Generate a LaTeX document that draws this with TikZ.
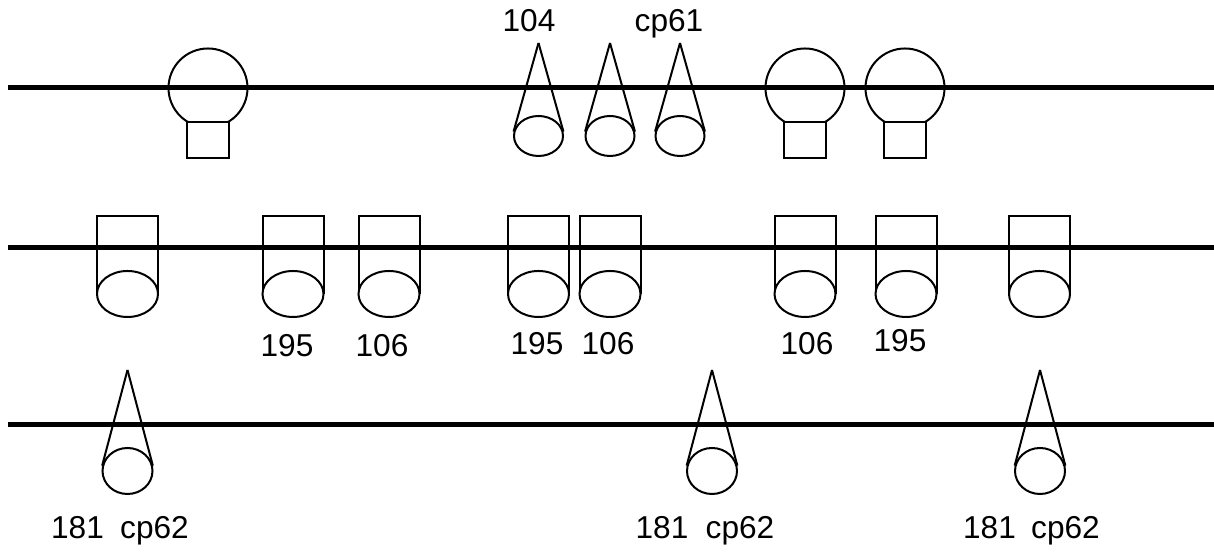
\documentclass[tikz,border=0pt]{standalone}
\usepackage{fontspec}
\setmainfont{Liberation Sans}
\usetikzlibrary{shapes.geometric}

\begin{document}
\begin{tikzpicture}[
	line width=0.4mm,
	membrane/.style={line width=1mm},
	head/.style={circle, draw, minimum size=15.8mm, inner sep=0pt},
	stem/.style={draw, rectangle, minimum width=8.4mm, minimum height=7.2mm, inner sep=0pt, fill=white},
	ball/.style={ellipse, draw, minimum width=9.8mm, minimum height=8mm, inner sep=0pt},
	lowball/.style={ellipse, draw, minimum width=10mm, minimum height=9.2mm, inner sep=0pt},
	cup/.style={draw, rectangle, minimum width=12.2mm, minimum height=15.4mm, inner sep=0pt},
	foot/.style={ellipse, draw, minimum width=12.2mm, minimum height=9.2mm, inner sep=0pt, fill=white},
	tag/.style={font=\fontsize{18}{21}\selectfont, inner sep=0pt, anchor=base}
	]
	\useasboundingbox (0,0) rectangle (24.28,11.04);
	
	%-----------------------
	% Customizable heights
	%-----------------------
	\def\hmemA{9.28}   % upper membrane
	\def\hmemB{6.08}   % middle membrane
	\def\hmemC{2.54}   % lower membrane
	\def\htipA{10.18}  % tips of upper cones
	\def\hballA{8.32}  % balls of upper cones
	\def\hstem{8.24}   % stems under heads
	\def\hcup{5.95}    % cups on middle membrane
	\def\htipC{3.64}   % tips of lower cones
	\def\hballC{1.62}  % balls of lower cones
	
	%-----------------------
	% Membranes
	%-----------------------
	\draw[membrane] (0.16,\hmemA) -- (24.28,\hmemA);
	\draw[membrane] (0.16,\hmemB) -- (24.28,\hmemB);
	\draw[membrane] (0.16,\hmemC) -- (24.28,\hmemC);
	
	%-----------------------
	% Upper row: heads with stems
	%-----------------------
	\node[head] (head-1) at ( 4.16,\hmemA) {};
	\node[head] (head-2) at (16.10,\hmemA) {};
	\node[head] (head-3) at (18.10,\hmemA) {};
	\node[stem] (stem-1) at ( 4.16,\hstem) {};
	\node[stem] (stem-2) at (16.10,\hstem) {};
	\node[stem] (stem-3) at (18.10,\hstem) {};
	
	%-----------------------
	% Upper row: cones
	%-----------------------
	\coordinate (tipA-1) at (10.77,\htipA);
	\coordinate (tipA-2) at (12.20,\htipA);
	\coordinate (tipA-3) at (13.60,\htipA);
	\node[ball] (ballA-1) at (10.77,\hballA) {};
	\node[ball] (ballA-2) at (12.20,\hballA) {};
	\node[ball] (ballA-3) at (13.60,\hballA) {};
	
	\draw (tipA-1) -- (ballA-1.170);
	\draw (tipA-1) -- (ballA-1.10);
	\draw (tipA-2) -- (ballA-2.170);
	\draw (tipA-2) -- (ballA-2.10);
	\draw (tipA-3) -- (ballA-3.170);
	\draw (tipA-3) -- (ballA-3.10);
	
	\node[tag] (L104) at (10.58,10.40) {104};
	\node[tag] (Lcp61) at (13.38,10.40) {cp61};
	
	%-----------------------
	% Middle row: cups with feet
	%-----------------------
	\node[cup] (cup-1) at ( 2.55,\hcup) {};
	\node[cup] (cup-2) at ( 5.86,\hcup) {};
	\node[cup] (cup-3) at ( 7.78,\hcup) {};
	\node[cup] (cup-4) at (10.77,\hcup) {};
	\node[cup] (cup-5) at (12.20,\hcup) {};
	\node[cup] (cup-6) at (16.10,\hcup) {};
	\node[cup] (cup-7) at (18.12,\hcup) {};
	\node[cup] (cup-8) at (20.79,\hcup) {};
	
	\node[foot] (foot-1) at (cup-1.south) {};
	\node[foot] (foot-2) at (cup-2.south) {};
	\node[foot] (foot-3) at (cup-3.south) {};
	\node[foot] (foot-4) at (cup-4.south) {};
	\node[foot] (foot-5) at (cup-5.south) {};
	\node[foot] (foot-6) at (cup-6.south) {};
	\node[foot] (foot-7) at (cup-7.south) {};
	\node[foot] (foot-8) at (cup-8.south) {};
	
	\node[tag] (L195-1) at ( 5.74,3.90) {195};
	\node[tag] (L106-1) at ( 7.64,3.90) {106};
	\node[tag] (L195-2) at (10.74,3.94) {195};
	\node[tag] (L106-2) at (12.16,3.94) {106};
	\node[tag] (L106-3) at (16.14,3.94) {106};
	\node[tag] (L195-3) at (18.00,4.00) {195};
	
	%-----------------------
	% Lower row: cones
	%-----------------------
	\coordinate (tipC-1) at ( 2.55,\htipC);
	\coordinate (tipC-2) at (14.24,\htipC);
	\coordinate (tipC-3) at (20.80,\htipC);
	\node[lowball] (ballC-1) at ( 2.55,\hballC) {};
	\node[lowball] (ballC-2) at (14.24,\hballC) {};
	\node[lowball] (ballC-3) at (20.80,\hballC) {};
	
	\draw (tipC-1) -- (ballC-1.168);
	\draw (tipC-1) -- (ballC-1.12);
	\draw (tipC-2) -- (ballC-2.168);
	\draw (tipC-2) -- (ballC-2.12);
	\draw (tipC-3) -- (ballC-3.168);
	\draw (tipC-3) -- (ballC-3.12);
	
	\node[tag] (L181-1) at ( 1.55,0.26) {181};
	\node[tag] (Lcp62-1) at ( 3.09,0.26) {cp62};
	\node[tag] (L181-2) at (13.24,0.26) {181};
	\node[tag] (Lcp62-2) at (14.80,0.26) {cp62};
	\node[tag] (L181-3) at (19.79,0.26) {181};
	\node[tag] (Lcp62-3) at (21.31,0.26) {cp62};
	
\end{tikzpicture}
\end{document}
